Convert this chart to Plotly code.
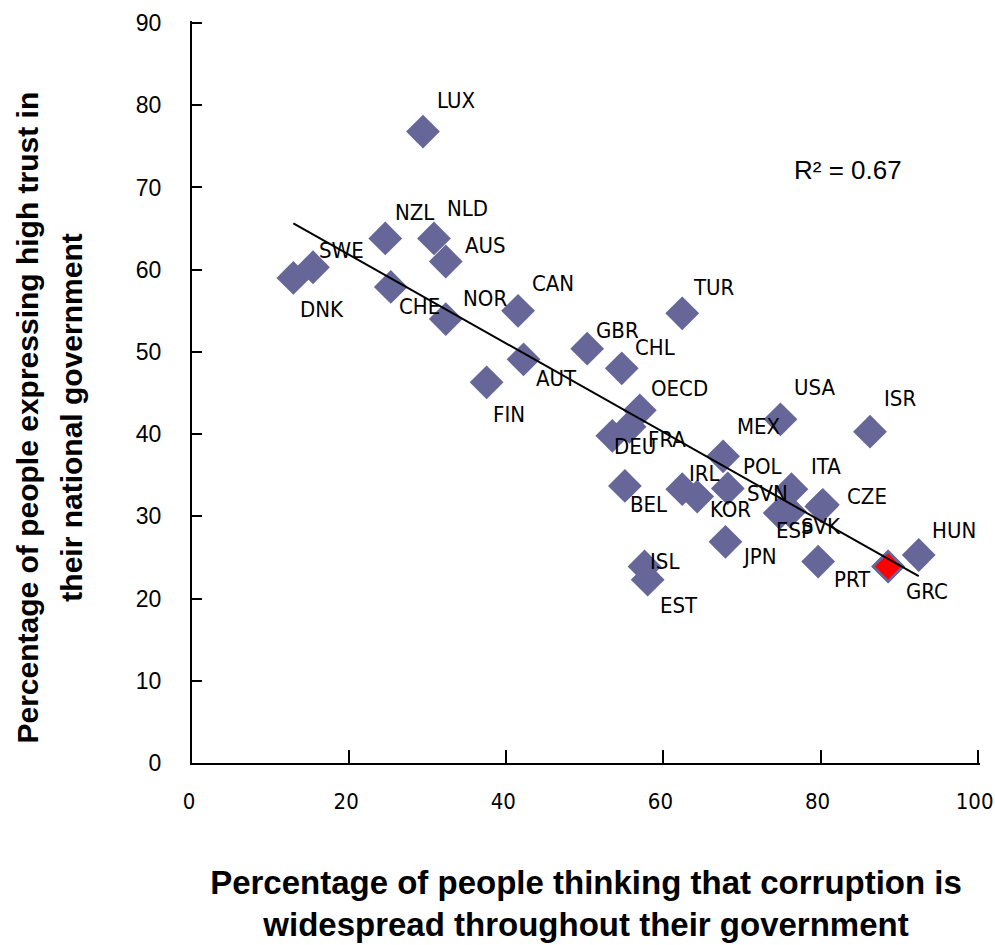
import numpy as np
import plotly.graph_objects as go

countries = ["LUX", "NZL", "NLD", "AUS", "SWE", "DNK", "CHE", "NOR", "CAN", "FIN",
             "AUT", "GBR", "CHL", "TUR", "OECD", "DEU", "FRA", "USA", "ISR", "MEX",
             "POL", "ITA", "SVN", "ESP", "SVK", "CZE", "BEL", "IRL", "KOR", "JPN",
             "ISL", "EST", "PRT", "GRC", "HUN"]
corruption = [29.4, 24.6, 30.8, 32.3, 15.4, 12.9, 25.3, 32.3, 41.5, 37.5,
              42.2, 50.3, 54.7, 62.4, 57.0, 53.5, 55.7, 74.9, 86.3, 67.6,
              68.2, 76.3, 74.8, 76.1, 80.1, 80.3, 55.1, 62.4, 64.3, 67.9,
              57.6, 58.0, 79.7, 88.6, 92.5]
trust = [76.8, 63.8, 63.8, 61.0, 60.3, 59.0, 57.9, 54.0, 55.0, 46.3,
         49.1, 50.4, 48.0, 54.7, 42.9, 39.8, 40.9, 41.8, 40.3, 37.3,
         33.4, 33.3, 30.4, 30.6, 31.2, 31.4, 33.7, 33.3, 32.4, 26.9,
         23.9, 22.3, 24.5, 23.9, 25.3]
highlight = "GRC"
r2_text = "R² = 0.67"
x_ticks = [0, 20, 40, 60, 80, 100]
y_ticks = [0, 10, 20, 30, 40, 50, 60, 70, 80, 90]

# label offsets in pixels (dx right, dy down) - layout only
label_offsets = {
    "LUX": (33, -31), "NZL": (29, -26), "NLD": (34, -30), "AUS": (40, -16),
    "SWE": (29, -17), "DNK": (29, 32), "CHE": (29, 20), "NOR": (39, -21),
    "CAN": (35, -27), "FIN": (22, 32), "AUT": (33, 19), "GBR": (30, -18),
    "CHL": (33, -21), "TUR": (32, -26), "OECD": (40, -22), "DEU": (23, 11),
    "FRA": (37, 13), "USA": (34, -32), "ISR": (30, -33), "MEX": (35, -30),
    "POL": (35, -22), "ITA": (35, -23), "SVN": (-12, -20), "ESP": (5, 19),
    "SVK": (0, 20), "CZE": (44, -8), "BEL": (24, 19), "IRL": (22, -16),
    "KOR": (33, 13), "JPN": (34, 15), "ISL": (20, -5), "EST": (31, 26),
    "PRT": (34, 18), "GRC": (39, 25), "HUN": (35, -24),
}

PURPLE = "#666699"
NARROW = "DejaVu Sans Condensed, Liberation Sans Narrow, Arial Narrow, Liberation Sans, sans-serif"
REG = "Liberation Sans, Arial, sans-serif"

fig = go.Figure()

xs = np.array(corruption)
ys = np.array(trust)
slope, intercept = np.polyfit(xs, ys, 1)
tx = np.array([xs.min(), xs.max()])

fig.add_trace(go.Scatter(
    x=corruption, y=trust, mode="markers", text=countries,
    marker=dict(symbol="diamond", size=26, color=PURPLE, line=dict(width=0)),
    showlegend=False))

hi = countries.index(highlight)
fig.add_trace(go.Scatter(
    x=[corruption[hi]], y=[trust[hi]], mode="markers", text=[highlight],
    marker=dict(symbol="diamond", size=23, color="red", line=dict(color=PURPLE, width=2.5)),
    showlegend=False))

fig.add_trace(go.Scatter(x=tx, y=slope * tx + intercept, mode="lines",
                         line=dict(color="black", width=2), hoverinfo="skip",
                         showlegend=False))

for c, x, y in zip(countries, corruption, trust):
    dx, dy = label_offsets[c]
    fig.add_annotation(x=x, y=y, text=c, showarrow=False, xshift=dx, yshift=-dy,
                       xanchor="center", yanchor="middle",
                       font=dict(family=NARROW, size=22, color="black"))

fig.add_annotation(xref="paper", yref="paper", x=0.833, y=0.799, text=r2_text,
                   showarrow=False, xanchor="center", yanchor="middle",
                   font=dict(family=REG, size=26, color="black"))

# y-axis title lines
fig.add_annotation(xref="paper", yref="paper", x=-0.209, y=0.466,
                   text="<b>Percentage of people expressing high trust in</b>",
                   textangle=-90, showarrow=False, xanchor="center", yanchor="middle",
                   font=dict(family=REG, size=30, color="black"))
fig.add_annotation(xref="paper", yref="paper", x=-0.153, y=0.466,
                   text="<b>their national government</b>",
                   textangle=-90, showarrow=False, xanchor="center", yanchor="middle",
                   font=dict(family=REG, size=30, color="black"))

fig.update_layout(
    width=995, height=945,
    margin=dict(l=192, r=15, t=21, b=182),
    paper_bgcolor="white", plot_bgcolor="white",
    xaxis=dict(range=[0, 100.3], tickvals=x_ticks, showgrid=False, zeroline=False,
               showline=True, linecolor="black", linewidth=2,
               ticks="inside", ticklen=13, tickwidth=2, tickcolor="black",
               ticklabelstandoff=18, ticklabelshift=-3, automargin=False,
               ticklabeloverflow="allow",
               tickfont=dict(family=NARROW, size=22, color="black"),
               title=dict(text="<b>Percentage of people thinking that corruption is<br>widespread throughout their government</b>",
                          font=dict(family=REG, size=33, color="black"), standoff=57)),
    yaxis=dict(range=[0, 90.25], tickvals=y_ticks, showgrid=False, zeroline=False,
               showline=True, linecolor="black", linewidth=2,
               ticks="inside", ticklen=10, tickwidth=2, tickcolor="black",
               ticklabelstandoff=24, automargin=False, ticklabeloverflow="allow",
               tickfont=dict(family=REG, size=23, color="black")),
)

fig.write_html("out.html", config={"displayModeBar": False},
               post_script="document.body.style.margin='0';document.body.style.overflow='hidden';")
